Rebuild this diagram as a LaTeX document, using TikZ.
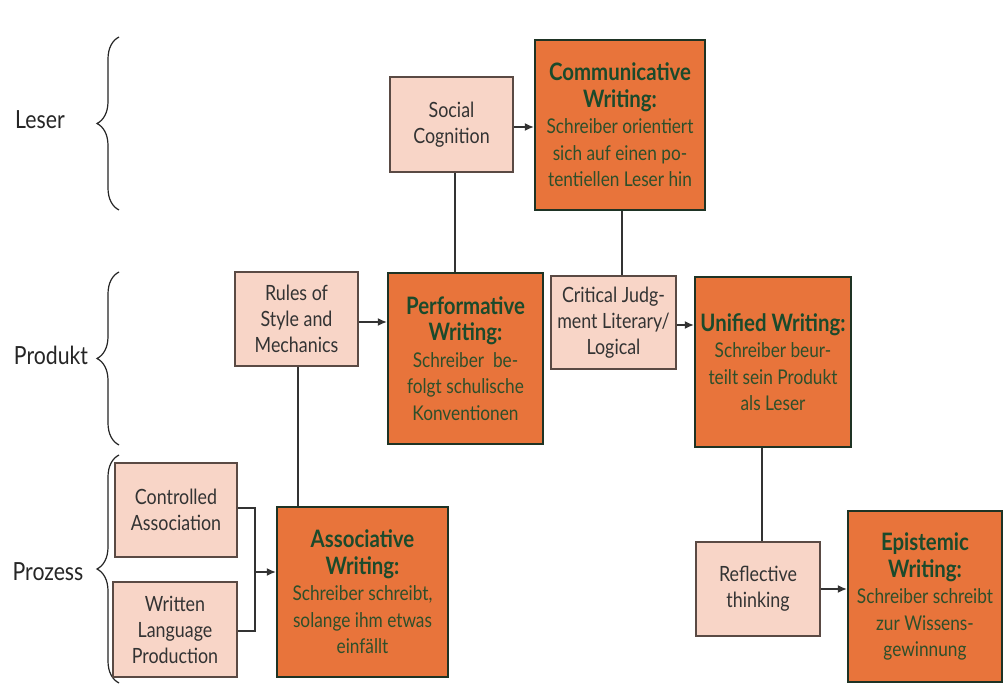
\documentclass[tikz,border=0pt]{standalone}
\usepackage{fontspec}
\setmainfont{Lato}[FakeStretch=0.85]
\usetikzlibrary{arrows.meta,decorations.pathreplacing}
\definecolor{pinkfill}{HTML}{F8D5C7}
\definecolor{orfill}{HTML}{E8743B}
\definecolor{orborder}{HTML}{1E3324}
\definecolor{pkborder}{HTML}{5A4A44}
\definecolor{titlec}{HTML}{1B4A2B}
\definecolor{bodyc}{HTML}{2E4F2A}
\definecolor{greytext}{HTML}{333333}
\newcommand{\ttl}{\fontsize{24}{28}\selectfont\bfseries\color{titlec}}
\tikzset{
  lightbox/.style={draw=pkborder, line width=1.3pt, fill=pinkfill, align=center,
    text=greytext, font=\fontsize{21}{26}\selectfont, inner sep=0pt},
  mainbox/.style={draw=orborder, line width=2.4pt, fill=orfill, align=center,
    text=bodyc, font=\fontsize{20.3}{26.5}\selectfont, inner sep=0pt},
  conn/.style={draw=black!80, line width=1.3pt},
  arr/.style={conn, -{Latex[length=9pt,width=8pt]}},
  lbl/.style={font=\fontsize{25}{28}\selectfont, text=black!85},
  bracestyle/.style={draw=black!85, line width=1.2pt,
    decorate, decoration={brace, amplitude=22pt}}
}
\begin{document}
\begin{tikzpicture}[x=1pt,y=-1pt]
\useasboundingbox (0,0) rectangle (1004,684);
\fill[white] (0,0) rectangle (1004,684);

% braces and labels
\coordinate (b1t) at (119,37);
\coordinate (b1b) at (119,210);
\coordinate (b2t) at (119,272);
\coordinate (b2b) at (119,445);
\coordinate (b3t) at (119,455);
\coordinate (b3b) at (119,683);
\draw[bracestyle] (b1b) -- (b1t);
\draw[bracestyle] (b2b) -- (b2t);
\draw[bracestyle] (b3b) -- (b3t);
\node[lbl] (leser) at (40,120) {Leser};
\node[lbl] (produkt) at (51,355) {Produkt};
\node[lbl] (prozess) at (48,572) {Prozess};

% boxes
\node[lightbox, minimum width=123pt, minimum height=95pt] (social) at (451.5,124.5) {Social\\Cognition};
\node[mainbox, minimum width=170pt, minimum height=170pt] (comm) at (620,125)
  {\ttl Communicative\\\ttl Writing:\\Schreiber orientiert\\sich auf einen po-\\tentiellen Leser hin};
\node[lightbox, minimum width=123pt, minimum height=94pt] (rules) at (296.5,319) {Rules of\\Style and\\Mechanics};
\node[mainbox, minimum width=155pt, minimum height=171pt] (perf) at (465.5,358.5)
  {\ttl Performative\\\ttl Writing:\\Schreiber\ \ be-\\folgt schulische\\Konventionen};
\node[lightbox, minimum width=125pt, minimum height=93pt] (crit) at (613.5,322.5) {Critical Judg-\\ment Literary/\\Logical};
\node[mainbox, minimum width=156pt, minimum height=170pt] (unified) at (773,362)
  {\ttl Unified Writing:\\Schreiber beur-\\teilt sein Produkt\\als Leser};
\node[lightbox, minimum width=122pt, minimum height=94pt] (contr) at (176,510) {Controlled\\Association};
\node[lightbox, minimum width=124pt, minimum height=95pt] (written) at (175,629.5) {Written\\Language\\Production};
\node[mainbox, minimum width=171pt, minimum height=170pt] (assoc) at (362.5,592)
  {\ttl Associative\\\ttl Writing:\\Schreiber schreibt,\\solange ihm etwas\\einfällt};
\node[lightbox, minimum width=124pt, minimum height=94pt] (refl) at (758,589) {Reflective\\thinking};
\node[mainbox, minimum width=154pt, minimum height=171pt] (epi) at (925,596.5)
  {\ttl Epistemic\\\ttl Writing:\\Schreiber schreibt\\zur Wissens-\\gewinnung};

% connectors
\draw[arr] (social.east |- 0,127) -- (comm.west |- 0,127);
\draw[arr] (rules.east |- 0,322) -- (perf.west |- 0,322);
\draw[arr] (crit.east |- 0,325) -- (unified.west |- 0,325);
\draw[arr] (refl.east |- 0,589) -- (epi.west |- 0,589);

\draw[conn] (social.south -| 455,0) -- (perf.north -| 455,0);
\draw[conn] (comm.south -| 622,0) -- (crit.north -| 622,0);
\draw[conn] (rules.south -| 298,0) -- (assoc.north -| 298,0);
\draw[conn] (unified.south -| 762,0) -- (refl.north -| 762,0);

\coordinate (jn) at (255,572);
\draw[conn] (contr.east |- 0,508) -- (255,508) -- (255,631) -- (written.east |- 0,631);
\draw[arr] (jn) -- (assoc.west |- jn);
\end{tikzpicture}
\end{document}
